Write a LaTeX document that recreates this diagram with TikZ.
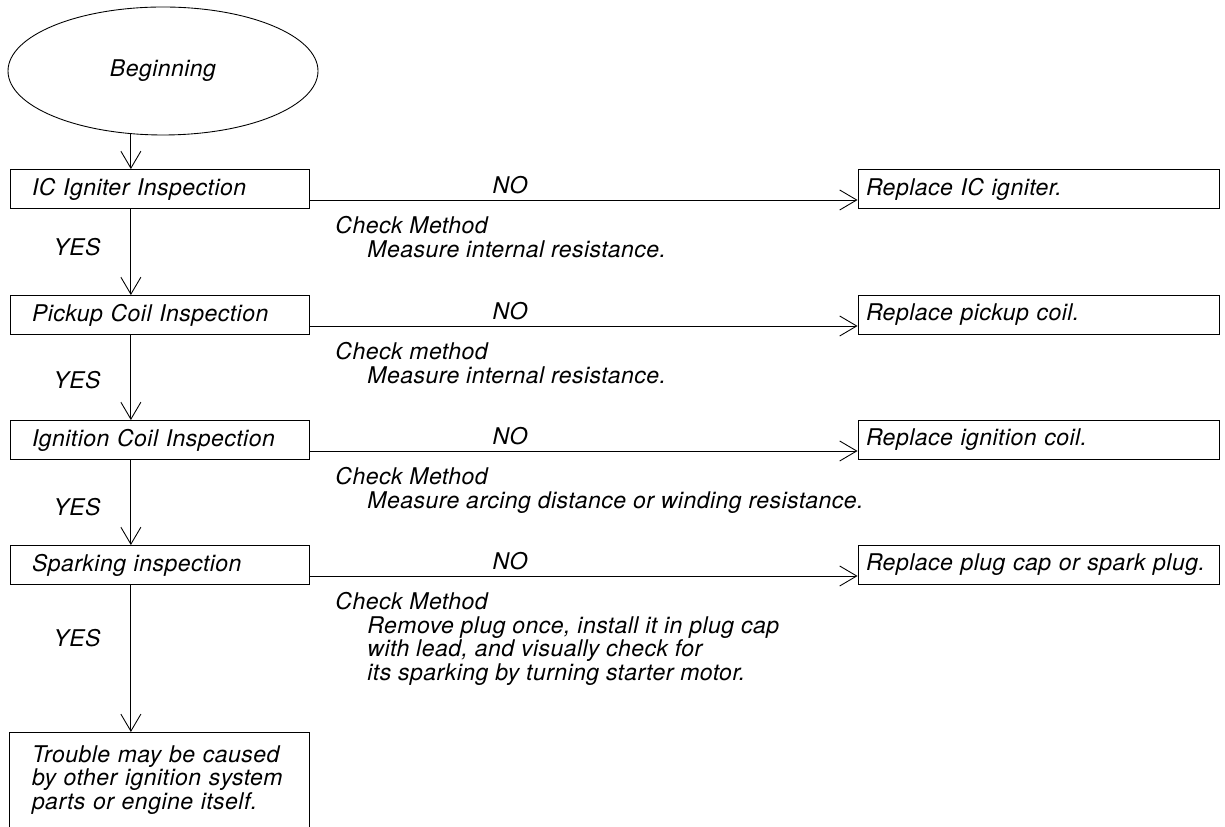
\documentclass[tikz,border=0pt]{standalone}
\usepackage{fontspec}
\setmainfont{TeX Gyre Heros}[LetterSpace=2.0]
\usepackage{tikz}
\usetikzlibrary{arrows.meta,positioning,shapes.geometric}

\newcommand{\chkindent}{\hspace*{6.4mm}}

\begin{document}
\begin{tikzpicture}[
  font=\fontsize{13.1}{13.4}\selectfont\itshape,
  line width=0.5pt,
  >={Straight Barb[length=3.4mm,width=4mm]},
  start/.style={draw,ellipse,inner sep=0pt,minimum width=62mm,minimum height=25.6mm},
  box/.style={draw,align=left,text width=51mm,inner xsep=4.4mm,inner ysep=0pt,minimum height=7.8mm},
  fix/.style={box,text width=69mm,inner xsep=1.6mm},
  check/.style={align=left,inner sep=0pt,anchor=north west},
  arrow/.style={->}
]
\useasboundingbox (0,0) rectangle (24.5,16.54);

\node[start] (begin) at (3.26,15.12) {Beginning};
\coordinate (stem) at (begin.243);

% inspection steps on the left, repairs on the right
\node[box] (igniter) at (3.19,12.76) {IC Igniter Inspection};
\node[box] (pickup) at (3.19,10.24) {Pickup Coil Inspection};
\node[box] (ignition) at (3.19,7.74) {Ignition Coil Inspection};
\node[box] (spark) at (3.19,5.24) {Sparking inspection};
\node[box,draw=none,minimum height=19mm,anchor=north] (trouble) at (3.19,1.9) {Trouble may be caused\\by other ignition system\\parts or engine itself.};
\draw (trouble.south west) |- (trouble.north east) -- (trouble.south east);

\node[fix] (newigniter) at (20.77,12.76) {Replace IC igniter.};
\node[fix] (newpickup) at (20.77,10.24) {Replace pickup coil.};
\node[fix] (newignition) at (20.77,7.74) {Replace ignition coil.};
\node[fix] (newspark) at (20.77,5.24) {Replace plug cap or spark plug.};

\draw[arrow] (stem) -- (stem |- igniter.north);
\foreach \a/\b in {igniter/pickup,pickup/ignition,ignition/spark,spark/trouble}{
  \draw[arrow] (\a.south -| stem) -- (\b.north -| stem);
}
\foreach \n/\y in {igniter/11.6,pickup/8.94,ignition/6.4,spark/3.78}{
  \node (yes\n) at (1.54,\y) {YES};
}

\foreach \a in {igniter,pickup,ignition,spark}{
  \coordinate (\a-out) at ([yshift=-2.2mm]\a.east);
  \draw[arrow] (\a-out) -- (\a-out -| new\a.west) node[pos=0.366,above] (no\a) {NO};
}

\node[check] (howigniter) at (6.7,12.22) {Check Method\\\chkindent Measure internal resistance.};
\node[check] (howpickup) at (6.7,9.70) {Check method\\\chkindent Measure internal resistance.};
\node[check] (howignition) at (6.7,7.20) {Check Method\\\chkindent Measure arcing distance or winding resistance.};
\node[check] (howspark) at (6.7,4.70) {Check Method\\\chkindent Remove plug once, install it in plug cap\\\chkindent with lead, and visually check for\\\chkindent its sparking by turning starter motor.};

\end{tikzpicture}
\end{document}
